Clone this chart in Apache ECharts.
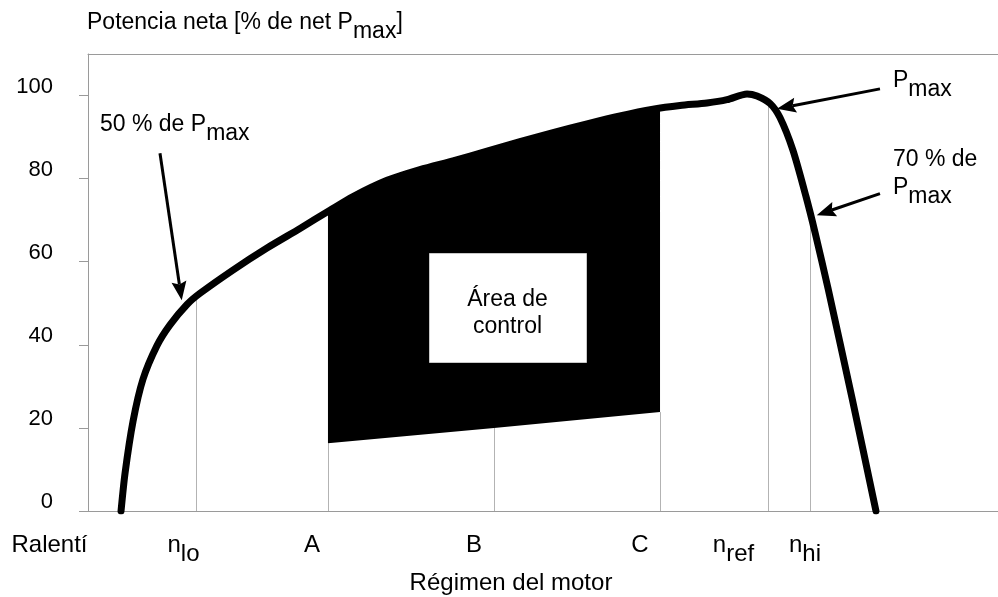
<!DOCTYPE html>
<html>
<head>
<meta charset="utf-8">
<script src="https://cdn.jsdelivr.net/npm/echarts@6/dist/echarts.min.js"></script>
<style>
  html, body { margin: 0; padding: 0; background: #fff; }
  #chart { width: 998px; height: 597px; }
</style>
</head>
<body>
<div id="chart"></div>
<script>
// Net power curve over engine speed (speed on a 0–100 scale across the plot)
const curveSpeed = [3.63, 4.07, 4.95, 6.04, 7.58, 9.01, 10.88, 12.31, 15.93, 19.67,
  23.30, 26.59, 29.12, 32.86, 36.48, 40.11, 43.85, 47.47, 51.10, 54.84,
  58.46, 62.09, 65.05, 68.02, 70.22, 72.42, 73.52, 74.95, 76.04, 77.47,
  78.90, 79.89, 81.32, 83.96, 86.59];
const curvePower = [0, 9.1, 21.6, 31.7, 39.8, 44.8, 49.7, 52.4, 58.0, 63.3,
  68.0, 72.4, 75.7, 79.6, 82.2, 84.3, 86.6, 88.9, 91.1, 93.2,
  95.1, 96.7, 97.6, 98.2, 99.0, 100.4, 99.9, 98.1, 94.7, 86.8,
  75.7, 67.1, 53.6, 27.2, 0];

const yTicks = [0, 20, 40, 60, 80, 100];

// Marked engine speeds: n_lo, A, B, C, n_ref, n_hi and where each drop line ends
const markSpeed = [11.87, 26.37, 44.62, 62.86, 74.73, 79.34];
const markTop = [51.6, 16.3, 20.0, 23.8, 98.4, 71.5];

// Control area: lower edge at A, B, C and the curve height at A and C
const ctrlSpeed = [26.37, 44.62, 62.86];
const ctrlLow = [16.3, 20.0, 23.8];
const ctrlTop = [72.1, 96.9];

// Speed axis labels [text, subscript]
const speedLabels = [['Ralentí', ''], ['n', 'lo'], ['A', ''], ['B', ''], ['C', ''], ['n', 'ref'], ['n', 'hi']];

// Annotation arrows: [from speed, from power, to speed, to power]
const arrows = [
  [7.91, 86.1, 10.30, 50.7],
  [87.03, 101.6, 75.71, 96.8],
  [87.03, 76.4, 80.08, 71.2]
];

// ---- layout ----
const speedLabelAt = [-4.23, 10.49, 24.62, 42.42, 60.66, 70.93, 78.79];
const notes = [
  { text: '{n|50 % de P}{s|max}', at: [1.32, 93.0] },
  { text: '{n|P}{s|max}', at: [88.46, 103.6] },
  { text: '{n|70 % de}\n{n|P}{s|max}', at: [88.46, 84.6] }
];
const ctrlBox = [37.47, 35.8, 54.73, 62.0];

const FONT = '"Liberation Sans", Arial, Helvetica, sans-serif';
const INK = '#000';
const FRAME = '#9a9a9a';
function richAt(size) {
  return {
    n: { fontSize: size, lineHeight: 28, verticalAlign: 'top', fontFamily: FONT, color: INK },
    s: { fontSize: size, lineHeight: 28, padding: [9, 0, 0, 0], verticalAlign: 'top', fontFamily: FONT, color: INK }
  };
}
const rich = richAt(23);
const richAxis = richAt(24);
const sub = (base, s) => '{n|' + base + '}' + (s ? '{s|' + s + '}' : '');
// rich blocks are placed by their top edge; glyph centre sits about 11px below it
const TEXT_DROP = 11;

const chart = echarts.init(document.getElementById('chart'), null, { renderer: 'canvas' });

const curveData = curveSpeed.map((s, i) => [s, curvePower[i]]);

chart.setOption({
  animation: false,
  backgroundColor: '#fff',
  grid: { left: 88, right: 0, top: 54, bottom: 86 },
  xAxis: [
    {
      type: 'value', min: 0, max: 100,
      axisLine: { show: true, onZero: false, lineStyle: { color: FRAME, width: 1 } },
      axisTick: { show: false }, axisLabel: { show: false }, splitLine: { show: false }
    },
    {
      type: 'value', position: 'top', min: 0, max: 100,
      axisLine: { show: true, onZero: false, lineStyle: { color: FRAME, width: 1 } },
      axisTick: { show: false }, axisLabel: { show: false }, splitLine: { show: false }
    }
  ],
  yAxis: {
    type: 'value', min: 0, max: 110, interval: 20,
    axisLine: { show: true, onZero: false, lineStyle: { color: FRAME, width: 1 } },
    axisTick: { show: true, length: 9, customValues: yTicks, lineStyle: { color: FRAME, width: 1 } },
    axisLabel: {
      customValues: yTicks, margin: 35, fontSize: 22, color: INK, fontFamily: FONT,
      verticalAlign: 'bottom', lineHeight: 18
    },
    splitLine: { show: false }
  },
  graphic: [
    {
      type: 'text', x: 87, y: 22.5 - TEXT_DROP,
      style: { text: '{n|Potencia neta [% de net P}{s|max}{n|]}', rich: rich, align: 'left', verticalAlign: 'top' }
    },
    {
      type: 'text', x: 511, y: 582 - TEXT_DROP,
      style: { text: '{n|Régimen del motor}', rich: richAxis, align: 'center', verticalAlign: 'top' }
    }
  ],
  series: [
    {
      // thin drop lines at the marked speeds
      type: 'custom', z: 1, silent: true,
      data: markSpeed.map((s, i) => [s, markTop[i]]),
      renderItem: function (params, api) {
        const p0 = api.coord([api.value(0), 0]);
        const p1 = api.coord([api.value(0), api.value(1)]);
        const x = Math.round(p0[0]) + 0.5;
        return {
          type: 'line',
          shape: { x1: x, y1: p0[1], x2: x, y2: p1[1] },
          style: { stroke: '#b3b3b3', lineWidth: 1 }
        };
      }
    },
    {
      // control area between the lower edge and the power curve
      type: 'custom', z: 2, silent: true,
      data: [[ctrlSpeed[0], ctrlLow[0]]],
      renderItem: function (params, api) {
        const pts = [];
        pts.push(api.coord([ctrlSpeed[0], ctrlLow[0]]));
        pts.push(api.coord([ctrlSpeed[0], ctrlTop[0]]));
        curveSpeed.forEach((s, i) => {
          if (s > ctrlSpeed[0] && s < ctrlSpeed[2]) pts.push(api.coord([s, curvePower[i]]));
        });
        pts.push(api.coord([ctrlSpeed[2], ctrlTop[1]]));
        pts.push(api.coord([ctrlSpeed[2], ctrlLow[2]]));
        pts.push(api.coord([ctrlSpeed[1], ctrlLow[1]]));
        return { type: 'polygon', shape: { points: pts }, style: { fill: '#000' } };
      }
    },
    {
      type: 'line', z: 3, silent: true,
      data: curveData,
      showSymbol: false,
      smooth: 0.25,
      lineStyle: { color: '#000', width: 7, cap: 'round', join: 'round' }
    },
    {
      // annotation arrows with filled heads
      type: 'custom', z: 4, silent: true, clip: false,
      data: arrows,
      renderItem: function (params, api) {
        const a = api.coord([api.value(0), api.value(1)]);
        const b = api.coord([api.value(2), api.value(3)]);
        const dx = b[0] - a[0], dy = b[1] - a[1];
        const len = Math.sqrt(dx * dx + dy * dy);
        const ux = dx / len, uy = dy / len;
        const nx = -uy, ny = ux;
        const headLen = 19, headHalf = 7.5, notch = 3;
        const bx = b[0] - ux * headLen, by = b[1] - uy * headLen;
        return {
          type: 'group',
          children: [
            {
              type: 'line',
              shape: { x1: a[0], y1: a[1], x2: bx + ux * notch, y2: by + uy * notch },
              style: { stroke: '#000', lineWidth: 3 }
            },
            {
              type: 'polygon',
              shape: {
                points: [
                  [b[0], b[1]],
                  [bx + nx * headHalf, by + ny * headHalf],
                  [bx + ux * notch, by + uy * notch],
                  [bx - nx * headHalf, by - ny * headHalf]
                ]
              },
              style: { fill: '#000' }
            }
          ]
        };
      }
    },
    {
      // white label box inside the control area
      type: 'custom', z: 4, silent: true,
      data: [ctrlBox],
      renderItem: function (params, api) {
        const a = api.coord([api.value(0), api.value(3)]);
        const b = api.coord([api.value(2), api.value(1)]);
        const cx = (a[0] + b[0]) / 2, cy = (a[1] + b[1]) / 2;
        return {
          type: 'group',
          children: [
            {
              type: 'rect',
              shape: { x: Math.round(a[0]) + 0.5, y: Math.round(a[1]) + 0.5, width: Math.round(b[0] - a[0]), height: Math.round(b[1] - a[1]) },
              style: { fill: '#fff', stroke: '#c8c8c8', lineWidth: 1 }
            },
            {
              type: 'text',
              style: {
                text: 'Área de\ncontrol', x: cx, y: cy + 5,
                align: 'center', verticalAlign: 'middle',
                fontSize: 23, lineHeight: 27, fontFamily: FONT, fill: INK
              }
            }
          ]
        };
      }
    },
    {
      // speed labels under the axis
      type: 'custom', z: 5, silent: true, clip: false,
      data: speedLabelAt.map((s, i) => [s, 0, i]),
      renderItem: function (params, api) {
        const p = api.coord([api.value(0), 0]);
        const lab = speedLabels[api.value(2)];
        return {
          type: 'text',
          style: { text: sub(lab[0], lab[1]), rich: richAxis, x: p[0], y: p[1] + 33 - TEXT_DROP, align: 'center', verticalAlign: 'top' }
        };
      }
    },
    {
      // annotations next to the arrows
      type: 'custom', z: 5, silent: true, clip: false,
      data: notes.map((n, i) => [n.at[0], n.at[1], i]),
      renderItem: function (params, api) {
        const p = api.coord([api.value(0), api.value(1)]);
        const note = notes[api.value(2)];
        return {
          type: 'text',
          style: { text: note.text, rich: rich, x: p[0], y: p[1] - TEXT_DROP, align: 'left', verticalAlign: 'top' }
        };
      }
    }
  ]
});
</script>
</body>
</html>
